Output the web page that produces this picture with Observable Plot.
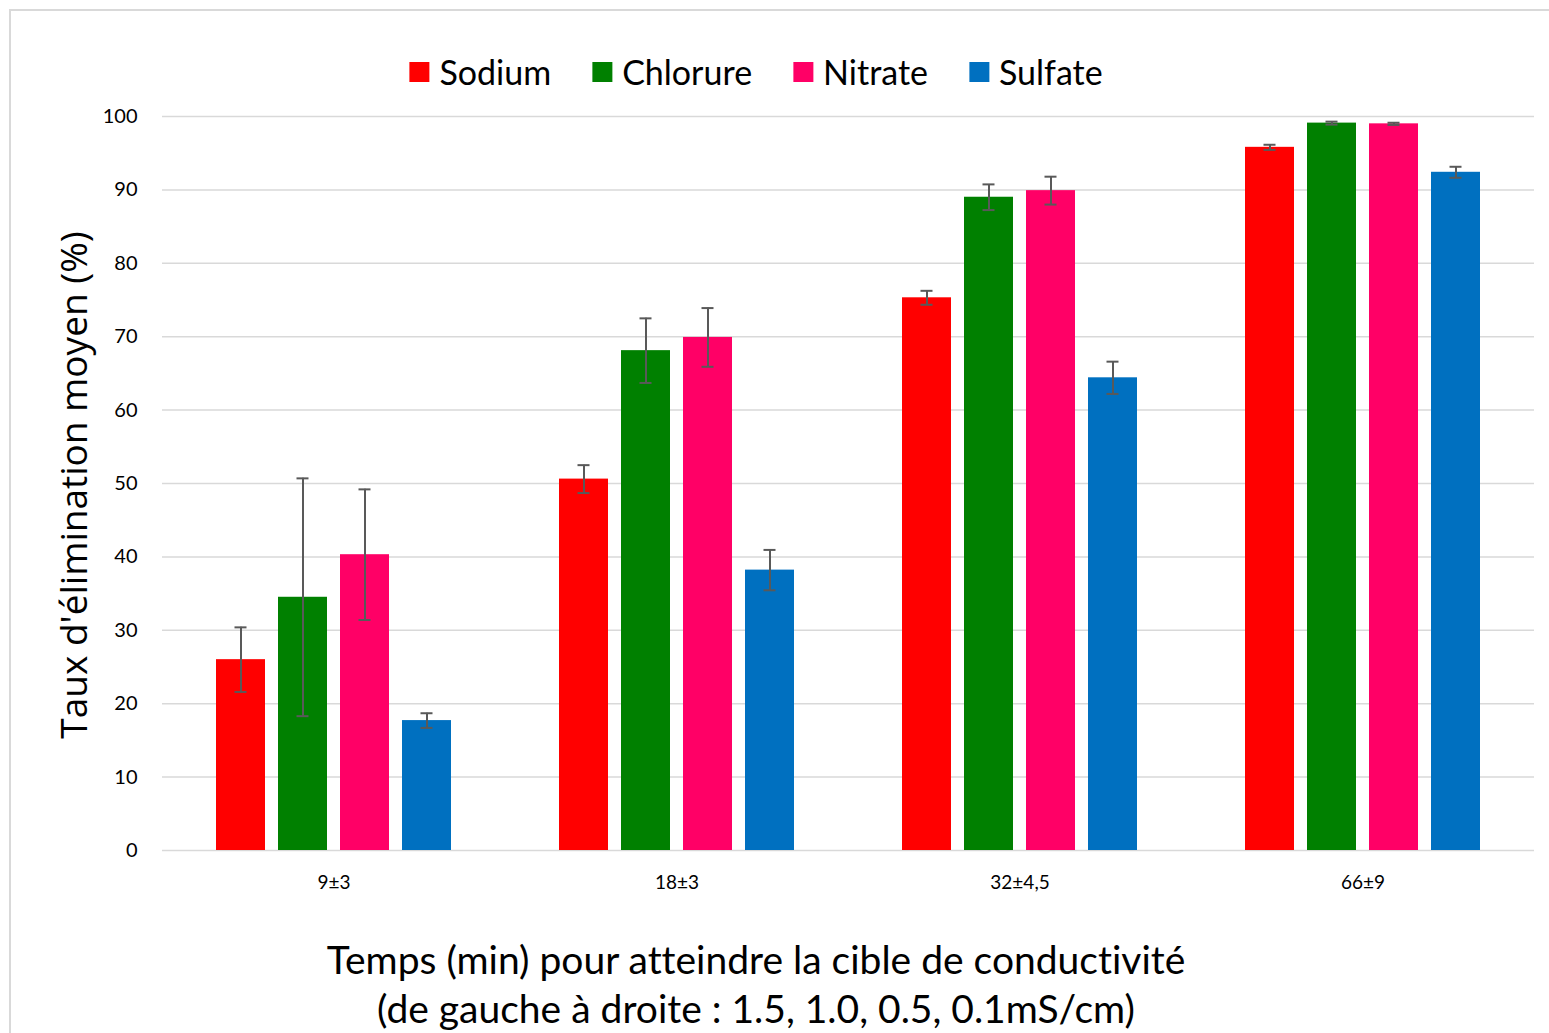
<!DOCTYPE html>
<html><head><meta charset="utf-8">
<script src="https://cdn.jsdelivr.net/npm/d3@7"></script>
<script src="https://cdn.jsdelivr.net/npm/@observablehq/plot@0.6"></script>
<style>
body{margin:0;background:#fff;font-family:Lato,"Open Sans",sans-serif;font-variant-ligatures:none;}
#wrap{position:relative;width:1549px;height:1033px;overflow:hidden;background:#fff}
#frame{position:absolute;left:9px;top:9px;width:1700px;height:1200px;border:2px solid #d9d9d9;box-sizing:border-box}
#chart{position:absolute;left:0;top:0}
#legend{position:absolute;top:52px;left:756px;transform:translateX(-50%);display:flex;gap:41px;white-space:nowrap;font-size:34px;line-height:40px;color:#000}
#legend .item{display:flex;align-items:center}
#legend .sw{width:20px;height:20px;margin-right:10px;display:inline-block}
#ytitle{position:absolute;left:72px;top:485px;transform:translate(-50%,-50%) rotate(-90deg);white-space:nowrap;font-family:"Open Sans",sans-serif;font-size:37px;color:#000}
#xtitle{position:absolute;left:756px;top:935px;transform:translateX(-50%);text-align:center;white-space:nowrap;font-size:39px;line-height:49px;color:#000}
</style>
</head><body>
<div id="wrap">
  <div id="frame"></div>
  <div id="chart"></div>
  <div id="legend"></div>
  <div id="ytitle">Taux d'élimination moyen (%)</div>
  <div id="xtitle">Temps (min) pour atteindre la cible de conductivité<br>(de gauche à droite : 1.5, 1.0, 0.5, 0.1mS/cm)</div>
</div>
<script>
const groups = ["9±3", "18±3", "32±4,5", "66±9"];
const series = ["Sodium", "Chlorure", "Nitrate", "Sulfate"];
const colors = ["#FF0000", "#008000", "#FF0066", "#0070C0"];
const yTicks = [0, 10, 20, 30, 40, 50, 60, 70, 80, 90, 100];

const sodium      = [26.0, 50.6, 75.3, 95.8];
const sodiumErr   = [4.4, 1.9, 0.95, 0.35];
const chlorure    = [34.5, 68.1, 89.0, 99.1];
const chlorureErr = [16.2, 4.4, 1.75, 0.2];
const nitrate     = [40.3, 69.9, 89.9, 99.0];
const nitrateErr  = [8.9, 4.0, 1.9, 0.15];
const sulfate     = [17.7, 38.2, 64.4, 92.4];
const sulfateErr  = [1.0, 2.75, 2.2, 0.75];

const values = [sodium, chlorure, nitrate, sulfate];
const errs = [sodiumErr, chlorureErr, nitrateErr, sulfateErr];
const data = [];
groups.forEach((g, gi) => series.forEach((s, si) => {
  const v = values[si][gi], e = errs[si][gi];
  data.push({group: g, series: s, value: v, lo: v - e, hi: v + e});
}));

const errColor = "#595959";
const chart = Plot.plot({
  width: 1549, height: 1033,
  marginTop: 116, marginLeft: 160, marginRight: 14, marginBottom: 183,
  style: {fontFamily: "Lato, 'Open Sans', sans-serif", background: "transparent"},
  fx: {domain: groups, padding: 0, label: null},
  x: {domain: series, paddingInner: 0.216, paddingOuter: 0.858, axis: null},
  y: {domain: [0, 100], label: null},
  color: {domain: series, range: colors},
  marks: [
    Plot.gridY(yTicks, {stroke: "#d9d9d9", strokeOpacity: 1, strokeWidth: 1.5}),
    Plot.barY(data, {fx: "group", x: "series", y: "value", fill: "series"}),
    Plot.ruleX(data, {fx: "group", x: "series", y1: "lo", y2: "hi", stroke: errColor, strokeWidth: 2}),
    Plot.tickY(data, {fx: "group", x: "series", y: "hi", stroke: errColor, strokeWidth: 2, insetLeft: 18.5, insetRight: 18.5}),
    Plot.tickY(data, {fx: "group", x: "series", y: "lo", stroke: errColor, strokeWidth: 2, insetLeft: 18.5, insetRight: 18.5}),
    Plot.axisY(yTicks, {tickSize: 0, tickPadding: 25, fontSize: 20, label: null, color: "#000"}),
    Plot.axisFx({anchor: "bottom", tickSize: 0, tickPadding: 25, fontSize: 19, label: null, color: "#000"})
  ]
});
document.getElementById("chart").appendChild(chart);

const legend = document.getElementById("legend");
series.forEach((s, i) => {
  const item = document.createElement("div");
  item.className = "item";
  const sw = document.createElement("span");
  sw.className = "sw";
  sw.style.background = colors[i];
  item.appendChild(sw);
  item.appendChild(document.createTextNode(s));
  legend.appendChild(item);
});
</script>
</body></html>
